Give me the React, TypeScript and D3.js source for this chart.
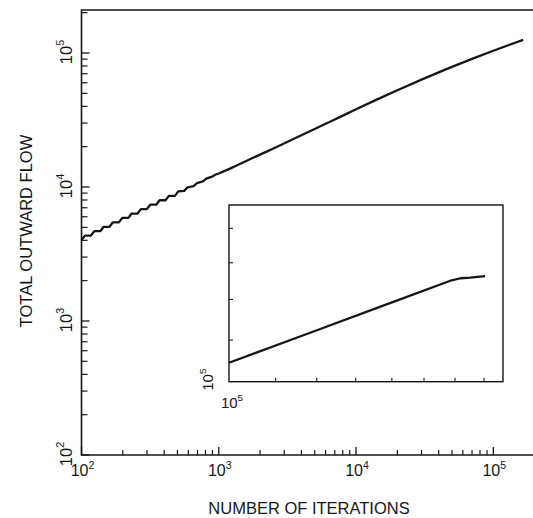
import React from "react";
import * as d3 from "d3";

// ---- data ----
// early staircase part (10^2 .. 10^3)
const stairIterations = [
  100, 106, 117, 124, 137, 145, 160, 169, 187, 198, 219, 232, 256, 271, 299, 317,
  350, 371, 409, 433, 479, 507, 560, 593, 655, 694, 766, 811, 895, 948, 1000,
];
const stairFlow = [
  4020, 4335, 4335, 4677, 4677, 5047, 5047, 5445, 5445, 5875, 5875, 6339, 6339, 6839, 6839, 7379,
  7379, 7962, 7962, 8590, 8590, 9268, 9350, 9950, 10150, 10700, 11000, 11550, 11950, 12400, 12600,
];
// smooth part (10^3 .. end)
const smoothIterations = [1000, 1250, 1500, 2000, 2500, 3500, 5000, 7000, 10000, 14000, 20000, 30000, 50000, 70000, 100000, 130000, 165000];
const smoothFlow = [12600, 13950, 15240, 17450, 19400, 22800, 27100, 31900, 38000, 44670, 52720, 63240, 78700, 90360, 104000, 114800, 125300];

const insetIterations = [1e5, 2e5, 4e5, 6.5e5, 7.0e5, 7.6e5, 8.6e5];
const insetFlow = [1.28e5, 1.905e5, 2.84e5, 3.75e5, 3.85e5, 3.88e5, 3.96e5];

const xMajorTicks = [1e2, 1e3, 1e4, 1e5];
const xTickExponents = ["2", "3", "4", "5"];
const yMajorTicks = [1e2, 1e3, 1e4, 1e5];
const yTickExponents = ["2", "3", "4", "5"];
const minorMultipliers = [2, 3, 4, 5, 6, 7, 8, 9];

const insetXTicks = [1.48e5, 2.09e5, 2.9e5, 3.93e5, 5.15e5, 6.68e5, 8.53e5];
const insetYTicks = [1.72e5, 2.92e5, 4.71e5, 7.38e5];

const xTitle = "NUMBER OF ITERATIONS";
const yTitle = "TOTAL OUTWARD FLOW";

// ---- layout ----
const W = 533;
const H = 518;
const left = 81.5;
const bottom = 455;
const top = 10;
const right = 533;
const ink = "#161616";
const font = "'Liberation Sans', Arial, Helvetica, sans-serif";

const x = d3.scaleLog().domain([1e2, 1e5]).range([left, 493.3]);
const y = d3.scaleLog().domain([1e2, 1e5]).range([bottom, 53]);

const inL = 229, inR = 503, inT = 205, inB = 381.7;
const ix = d3.scaleLog().domain([1e5, 1e6]).range([inL, inR]);
const iy = d3.scaleLog().domain([1e5, 1e6]).range([inB, inT]);

function minorValues(lo: number, hi: number) {
  const out: number[] = [];
  for (let d = 1e2; d <= 1e6; d *= 10) {
    for (const m of minorMultipliers) {
      const v = d * m;
      if (v >= lo && v <= hi) out.push(v);
    }
  }
  return out;
}

function Pow({ x: px, y: py, exp, rotate, size = 15 }: { x: number; y: number; exp: string; rotate?: boolean; size?: number }) {
  return (
    <text
      transform={rotate ? `translate(${px},${py}) rotate(-90)` : `translate(${px},${py})`}
      textAnchor="middle"
      fontSize={size}
      fill={ink}
    >
      10
      <tspan fontSize={size * 0.66} dy={-size * 0.45}>
        {exp}
      </tspan>
    </text>
  );
}

export default function App() {
  const stairData = stairIterations.map((v, i) => [v, stairFlow[i]] as [number, number]);
  const smoothData = smoothIterations.map((v, i) => [v, smoothFlow[i]] as [number, number]);
  const insetData = insetIterations.map((v, i) => [v, insetFlow[i]] as [number, number]);

  const stairLine = d3
    .line<[number, number]>()
    .x((d) => x(d[0]))
    .y((d) => y(d[1]));
  const smoothLine = d3
    .line<[number, number]>()
    .x((d) => x(d[0]))
    .y((d) => y(d[1]))
    .curve(d3.curveMonotoneX);
  const insetLine = d3
    .line<[number, number]>()
    .x((d) => ix(d[0]))
    .y((d) => iy(d[1]));

  const xMax = x.invert(right);
  const yMax = y.invert(top);
  const xMinor = minorValues(1e2, xMax);
  const yMinor = minorValues(1e2, yMax);

  return (
    <svg
      width={W}
      height={H}
      style={{ position: "absolute", left: 0, top: 0, background: "#fff" }}
      fontFamily={font}
    >
      <rect x={0} y={0} width={W} height={H} fill="#fff" />
      {/* frame */}
      <path
        d={`M${right},${top}H${left}V${bottom}H${right}`}
        fill="none"
        stroke={ink}
        strokeWidth={1.6}
      />
      {/* x ticks */}
      {xMajorTicks.map((t) => (
        <line key={"xm" + t} x1={x(t)} x2={x(t)} y1={bottom} y2={bottom - 8} stroke={ink} strokeWidth={1.3} />
      ))}
      {xMinor.map((t) => (
        <line key={"xn" + t} x1={x(t)} x2={x(t)} y1={bottom} y2={bottom - 5} stroke={ink} strokeWidth={1.2} />
      ))}
      {/* y ticks */}
      {yMajorTicks.map((t) => (
        <line key={"ym" + t} x1={left} x2={left + 8} y1={y(t)} y2={y(t)} stroke={ink} strokeWidth={1.3} />
      ))}
      {yMinor.map((t) => (
        <line key={"yn" + t} x1={left} x2={left + 6} y1={y(t)} y2={y(t)} stroke={ink} strokeWidth={1.2} />
      ))}
      {/* x tick labels */}
      {xMajorTicks.map((t, i) => (
        <Pow key={"xl" + t} x={x(t) + 1} y={476} exp={xTickExponents[i]} size={16} />
      ))}
      {/* y tick labels */}
      {yMajorTicks.map((t, i) => (
        <Pow key={"yl" + t} x={71.5} y={y(t) - 1} exp={yTickExponents[i]} rotate size={16.5} />
      ))}
      {/* axis titles */}
      <text x={309} y={514} textAnchor="middle" fontSize={16.5} fill={ink}>
        {xTitle}
      </text>
      <text transform="translate(32,231) rotate(-90)" textAnchor="middle" fontSize={16.5} fill={ink}>
        {yTitle}
      </text>
      {/* main curve */}
      <path d={stairLine(stairData) || ""} fill="none" stroke={ink} strokeWidth={2.3} strokeLinejoin="round" />
      <path d={smoothLine(smoothData) || ""} fill="none" stroke={ink} strokeWidth={2.3} strokeLinejoin="round" />

      {/* inset */}
      <rect x={inL} y={inT} width={inR - inL} height={inB - inT} fill="#fff" stroke={ink} strokeWidth={1.4} />
      {insetXTicks.map((t) => (
        <line key={"ix" + t} x1={ix(t)} x2={ix(t)} y1={inB} y2={inB - 4} stroke={ink} strokeWidth={1.1} />
      ))}
      {insetYTicks.map((t) => (
        <line key={"iy" + t} x1={inL} x2={inL + 4} y1={iy(t)} y2={iy(t)} stroke={ink} strokeWidth={1.1} />
      ))}
      <path d={insetLine(insetData) || ""} fill="none" stroke={ink} strokeWidth={2.3} strokeLinejoin="round" />
      <Pow x={inL + 3} y={408} exp="5" size={15} />
      <Pow x={213} y={inB - 2} exp="5" rotate size={15} />
    </svg>
  );
}
